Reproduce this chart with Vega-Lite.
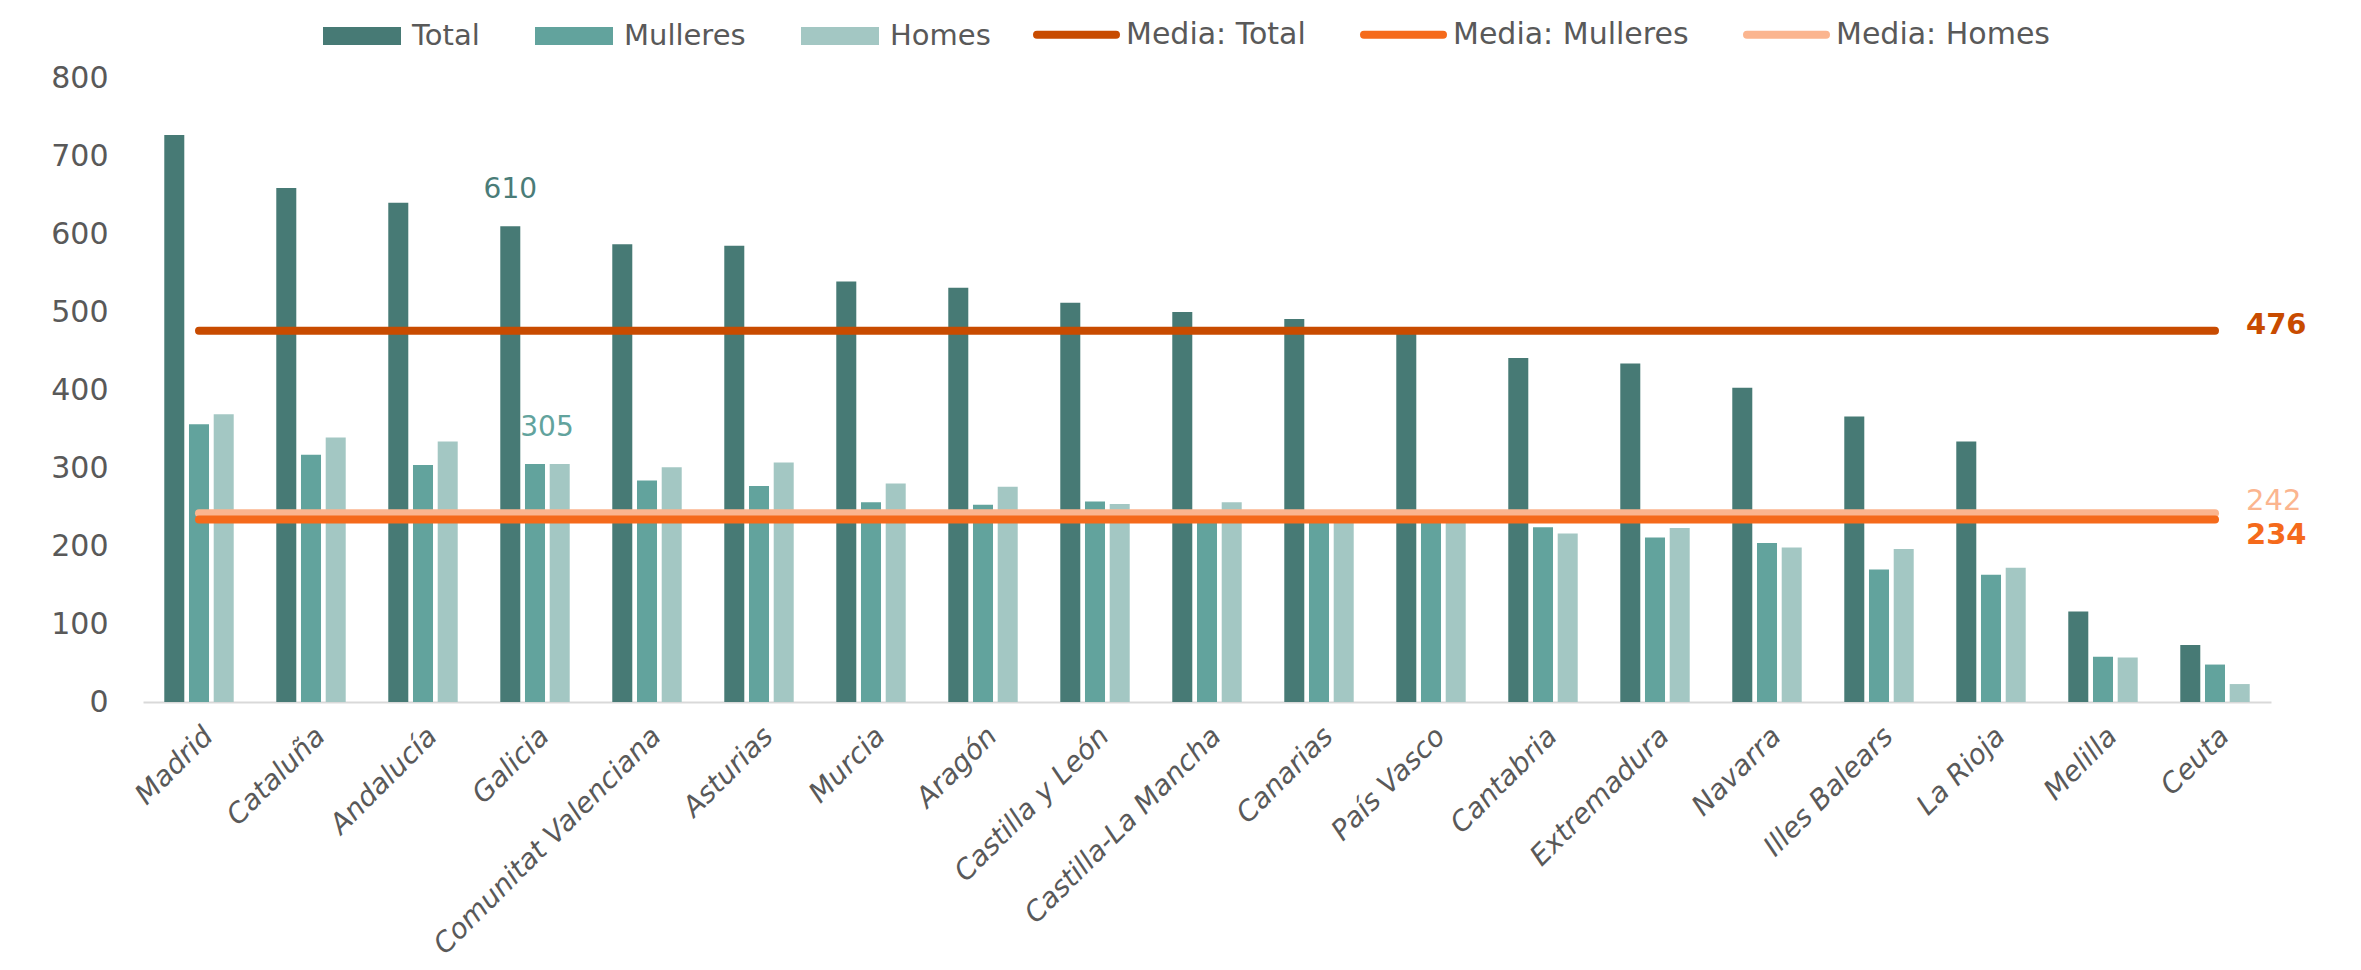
{
  "$schema": "https://vega.github.io/schema/vega-lite/v6.json",
  "width": 2128,
  "height": 624,
  "autosize": {"type": "none"},
  "padding": {"left": 143, "top": 78, "right": 90, "bottom": 268},
  "background": "white",
  "config": {"view": {"stroke": null}, "font": "DejaVu Sans"},
  "datasets": {
    "bars": [
      {"region": "Madrid", "serie": "Total", "value": 727}, {"region": "Madrid", "serie": "Mulleres", "value": 356}, {"region": "Madrid", "serie": "Homes", "value": 369},
      {"region": "Cataluña", "serie": "Total", "value": 659}, {"region": "Cataluña", "serie": "Mulleres", "value": 317}, {"region": "Cataluña", "serie": "Homes", "value": 339},
      {"region": "Andalucía", "serie": "Total", "value": 640}, {"region": "Andalucía", "serie": "Mulleres", "value": 304}, {"region": "Andalucía", "serie": "Homes", "value": 334},
      {"region": "Galicia", "serie": "Total", "value": 610}, {"region": "Galicia", "serie": "Mulleres", "value": 305}, {"region": "Galicia", "serie": "Homes", "value": 305},
      {"region": "Comunitat Valenciana", "serie": "Total", "value": 587}, {"region": "Comunitat Valenciana", "serie": "Mulleres", "value": 284}, {"region": "Comunitat Valenciana", "serie": "Homes", "value": 301},
      {"region": "Asturias", "serie": "Total", "value": 585}, {"region": "Asturias", "serie": "Mulleres", "value": 277}, {"region": "Asturias", "serie": "Homes", "value": 307},
      {"region": "Murcia", "serie": "Total", "value": 539}, {"region": "Murcia", "serie": "Mulleres", "value": 256}, {"region": "Murcia", "serie": "Homes", "value": 280},
      {"region": "Aragón", "serie": "Total", "value": 531}, {"region": "Aragón", "serie": "Mulleres", "value": 253}, {"region": "Aragón", "serie": "Homes", "value": 276},
      {"region": "Castilla y León", "serie": "Total", "value": 512}, {"region": "Castilla y León", "serie": "Mulleres", "value": 257}, {"region": "Castilla y León", "serie": "Homes", "value": 254},
      {"region": "Castilla-La Mancha", "serie": "Total", "value": 500}, {"region": "Castilla-La Mancha", "serie": "Mulleres", "value": 238}, {"region": "Castilla-La Mancha", "serie": "Homes", "value": 256},
      {"region": "Canarias", "serie": "Total", "value": 491}, {"region": "Canarias", "serie": "Mulleres", "value": 232}, {"region": "Canarias", "serie": "Homes", "value": 234},
      {"region": "País Vasco", "serie": "Total", "value": 473}, {"region": "País Vasco", "serie": "Mulleres", "value": 230}, {"region": "País Vasco", "serie": "Homes", "value": 230},
      {"region": "Cantabria", "serie": "Total", "value": 441}, {"region": "Cantabria", "serie": "Mulleres", "value": 224}, {"region": "Cantabria", "serie": "Homes", "value": 216},
      {"region": "Extremadura", "serie": "Total", "value": 434}, {"region": "Extremadura", "serie": "Mulleres", "value": 211}, {"region": "Extremadura", "serie": "Homes", "value": 223},
      {"region": "Navarra", "serie": "Total", "value": 403}, {"region": "Navarra", "serie": "Mulleres", "value": 204}, {"region": "Navarra", "serie": "Homes", "value": 198},
      {"region": "Illes Balears", "serie": "Total", "value": 366}, {"region": "Illes Balears", "serie": "Mulleres", "value": 170}, {"region": "Illes Balears", "serie": "Homes", "value": 196},
      {"region": "La Rioja", "serie": "Total", "value": 334}, {"region": "La Rioja", "serie": "Mulleres", "value": 163}, {"region": "La Rioja", "serie": "Homes", "value": 172},
      {"region": "Melilla", "serie": "Total", "value": 116}, {"region": "Melilla", "serie": "Mulleres", "value": 58}, {"region": "Melilla", "serie": "Homes", "value": 57},
      {"region": "Ceuta", "serie": "Total", "value": 73}, {"region": "Ceuta", "serie": "Mulleres", "value": 48}, {"region": "Ceuta", "serie": "Homes", "value": 23}
    ],
    "medias": [
      {"region": "Madrid", "media": "Media: Total", "value": 476}, {"region": "Cataluña", "media": "Media: Total", "value": 476}, {"region": "Andalucía", "media": "Media: Total", "value": 476}, {"region": "Galicia", "media": "Media: Total", "value": 476}, {"region": "Comunitat Valenciana", "media": "Media: Total", "value": 476}, {"region": "Asturias", "media": "Media: Total", "value": 476}, {"region": "Murcia", "media": "Media: Total", "value": 476}, {"region": "Aragón", "media": "Media: Total", "value": 476}, {"region": "Castilla y León", "media": "Media: Total", "value": 476}, {"region": "Castilla-La Mancha", "media": "Media: Total", "value": 476}, {"region": "Canarias", "media": "Media: Total", "value": 476}, {"region": "País Vasco", "media": "Media: Total", "value": 476}, {"region": "Cantabria", "media": "Media: Total", "value": 476}, {"region": "Extremadura", "media": "Media: Total", "value": 476}, {"region": "Navarra", "media": "Media: Total", "value": 476}, {"region": "Illes Balears", "media": "Media: Total", "value": 476}, {"region": "La Rioja", "media": "Media: Total", "value": 476}, {"region": "Melilla", "media": "Media: Total", "value": 476}, {"region": "Ceuta", "media": "Media: Total", "value": 476},
      {"region": "Madrid", "media": "Media: Homes", "value": 242}, {"region": "Cataluña", "media": "Media: Homes", "value": 242}, {"region": "Andalucía", "media": "Media: Homes", "value": 242}, {"region": "Galicia", "media": "Media: Homes", "value": 242}, {"region": "Comunitat Valenciana", "media": "Media: Homes", "value": 242}, {"region": "Asturias", "media": "Media: Homes", "value": 242}, {"region": "Murcia", "media": "Media: Homes", "value": 242}, {"region": "Aragón", "media": "Media: Homes", "value": 242}, {"region": "Castilla y León", "media": "Media: Homes", "value": 242}, {"region": "Castilla-La Mancha", "media": "Media: Homes", "value": 242}, {"region": "Canarias", "media": "Media: Homes", "value": 242}, {"region": "País Vasco", "media": "Media: Homes", "value": 242}, {"region": "Cantabria", "media": "Media: Homes", "value": 242}, {"region": "Extremadura", "media": "Media: Homes", "value": 242}, {"region": "Navarra", "media": "Media: Homes", "value": 242}, {"region": "Illes Balears", "media": "Media: Homes", "value": 242}, {"region": "La Rioja", "media": "Media: Homes", "value": 242}, {"region": "Melilla", "media": "Media: Homes", "value": 242}, {"region": "Ceuta", "media": "Media: Homes", "value": 242},
      {"region": "Madrid", "media": "Media: Mulleres", "value": 234}, {"region": "Cataluña", "media": "Media: Mulleres", "value": 234}, {"region": "Andalucía", "media": "Media: Mulleres", "value": 234}, {"region": "Galicia", "media": "Media: Mulleres", "value": 234}, {"region": "Comunitat Valenciana", "media": "Media: Mulleres", "value": 234}, {"region": "Asturias", "media": "Media: Mulleres", "value": 234}, {"region": "Murcia", "media": "Media: Mulleres", "value": 234}, {"region": "Aragón", "media": "Media: Mulleres", "value": 234}, {"region": "Castilla y León", "media": "Media: Mulleres", "value": 234}, {"region": "Castilla-La Mancha", "media": "Media: Mulleres", "value": 234}, {"region": "Canarias", "media": "Media: Mulleres", "value": 234}, {"region": "País Vasco", "media": "Media: Mulleres", "value": 234}, {"region": "Cantabria", "media": "Media: Mulleres", "value": 234}, {"region": "Extremadura", "media": "Media: Mulleres", "value": 234}, {"region": "Navarra", "media": "Media: Mulleres", "value": 234}, {"region": "Illes Balears", "media": "Media: Mulleres", "value": 234}, {"region": "La Rioja", "media": "Media: Mulleres", "value": 234}, {"region": "Melilla", "media": "Media: Mulleres", "value": 234}, {"region": "Ceuta", "media": "Media: Mulleres", "value": 234}
    ],
    "notes": [
      {"region": "Galicia", "serie": "Total", "value": 610, "label": "610"},
      {"region": "Galicia", "serie": "Mulleres", "value": 305, "label": "305"}
    ],
    "ends": [
      {"region": "Ceuta", "media": "Media: Total", "value": 476, "label": "476"},
      {"region": "Ceuta", "media": "Media: Homes", "value": 242, "label": "242"},
      {"region": "Ceuta", "media": "Media: Mulleres", "value": 234, "label": "234"}
    ]
  },
  "layer": [
    {
      "data": {"name": "bars"},
      "mark": {"type": "bar"},
      "encoding": {
        "x": {
          "field": "region", "type": "nominal",
          "scale": {"domain": ["Madrid", "Cataluña", "Andalucía", "Galicia", "Comunitat Valenciana", "Asturias", "Murcia", "Aragón", "Castilla y León", "Castilla-La Mancha", "Canarias", "País Vasco", "Cantabria", "Extremadura", "Navarra", "Illes Balears", "La Rioja", "Melilla", "Ceuta"], "paddingInner": 0.38, "paddingOuter": 0.19},
          "axis": {"title": null, "labelAngle": -45, "labelFont": "DejaVu Sans", "labelFontStyle": "italic", "labelFontSize": 28, "labelColor": "#595959", "labelPadding": 20, "ticks": false, "domainColor": "#D9D9D9", "domainWidth": 2, "grid": false, "labelLimit": 500}
        },
        "xOffset": {"field": "serie", "type": "nominal", "scale": {"domain": ["Total", "Mulleres", "Homes"], "paddingInner": 0.19, "paddingOuter": 0}},
        "y": {
          "field": "value", "type": "quantitative",
          "scale": {"domain": [0, 800], "nice": false},
          "axis": {"title": null, "values": [0, 100, 200, 300, 400, 500, 600, 700, 800], "grid": false, "domain": false, "ticks": false, "labelFont": "DejaVu Sans", "labelFontSize": 30, "labelColor": "#595959", "labelPadding": 35}
        },
        "fill": {
          "field": "serie", "type": "nominal",
          "scale": {"domain": ["Total", "Mulleres", "Homes"], "range": ["#477A75", "#62A39D", "#A3C7C3"]},
          "legend": {"title": null, "orient": "none", "legendX": 180, "legendY": -81, "direction": "horizontal", "symbolType": "M-1,-0.23H1V0.23H-1Z", "symbolSize": 6084, "symbolStrokeWidth": 0, "labelFont": "DejaVu Sans", "labelFontSize": 29, "labelColor": "#595959", "labelOffset": 11, "labelLimit": 500, "columnPadding": 55}
        }
      }
    },
    {
      "data": {"name": "medias"},
      "mark": {"type": "line", "strokeWidth": 8, "strokeCap": "round"},
      "encoding": {
        "x": {"field": "region", "type": "nominal"},
        "y": {"field": "value", "type": "quantitative"},
        "stroke": {
          "field": "media", "type": "nominal",
          "scale": {"domain": ["Media: Total", "Media: Mulleres", "Media: Homes"], "range": ["#C84B00", "#F56A1B", "#FBB58F"]},
          "legend": {"title": null, "orient": "none", "legendX": 890, "legendY": -87, "direction": "horizontal", "symbolType": "stroke", "symbolSize": 6241, "symbolStrokeWidth": 8, "labelFont": "DejaVu Sans", "labelFontSize": 30, "labelColor": "#595959", "labelOffset": 6, "labelLimit": 500, "columnPadding": 42,
            "encode": {"symbols": {"update": {"strokeCap": {"value": "round"}}}}}
        }
      }
    },
    {
      "data": {"name": "notes"},
      "transform": [{"filter": "datum.serie == 'Total'"}],
      "mark": {"type": "text", "fontSize": 28, "font": "DejaVu Sans", "dy": -36, "color": "#4A7C78"},
      "encoding": {
        "x": {"field": "region", "type": "nominal"},
        "xOffset": {"field": "serie", "type": "nominal"},
        "y": {"field": "value", "type": "quantitative"},
        "text": {"field": "label"}
      }
    },
    {
      "data": {"name": "notes"},
      "transform": [{"filter": "datum.serie == 'Mulleres'"}],
      "mark": {"type": "text", "fontSize": 28, "font": "DejaVu Sans", "dy": -36, "dx": 12, "color": "#62A39D"},
      "encoding": {
        "x": {"field": "region", "type": "nominal"},
        "xOffset": {"field": "serie", "type": "nominal"},
        "y": {"field": "value", "type": "quantitative"},
        "text": {"field": "label"}
      }
    },
    {
      "data": {"name": "ends"},
      "transform": [{"filter": "datum.label == '476'"}],
      "mark": {"type": "text", "fontSize": 29, "fontWeight": "bold", "font": "DejaVu Sans", "align": "left", "dx": 31, "dy": -6, "baseline": "middle", "color": "#C84B00"},
      "encoding": {
        "x": {"field": "region", "type": "nominal"},
        "y": {"field": "value", "type": "quantitative"},
        "text": {"field": "label"}
      }
    },
    {
      "data": {"name": "ends"},
      "transform": [{"filter": "datum.label == '242'"}],
      "mark": {"type": "text", "fontSize": 29, "font": "DejaVu Sans", "align": "left", "dx": 31, "dy": -12, "baseline": "middle", "color": "#FBB58F"},
      "encoding": {
        "x": {"field": "region", "type": "nominal"},
        "y": {"field": "value", "type": "quantitative"},
        "text": {"field": "label"}
      }
    },
    {
      "data": {"name": "ends"},
      "transform": [{"filter": "datum.label == '234'"}],
      "mark": {"type": "text", "fontSize": 29, "fontWeight": "bold", "font": "DejaVu Sans", "align": "left", "dx": 31, "dy": 16, "baseline": "middle", "color": "#F56A1B"},
      "encoding": {
        "x": {"field": "region", "type": "nominal"},
        "y": {"field": "value", "type": "quantitative"},
        "text": {"field": "label"}
      }
    }
  ]
}
